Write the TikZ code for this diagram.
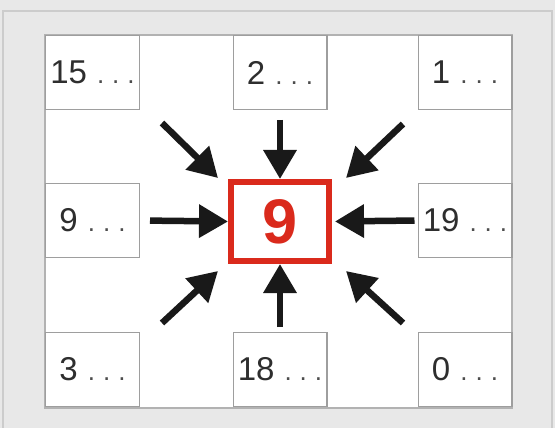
\documentclass[tikz,border=0pt]{standalone}
\usepackage{fontspec}
\setmainfont{Liberation Sans}
\usetikzlibrary{arrows.meta}
\definecolor{hotred}{RGB}{218,42,28}
\newcommand{\etc}{\hspace{10pt}{\fontsize{26}{28}\selectfont\color{black!70}.\hspace{8pt}.\hspace{8pt}.}}

\begin{document}
\begin{tikzpicture}[x=1pt, y=-1pt,
  cell/.style={draw=black!38, line width=1.2pt, fill=white, inner sep=0pt,
    minimum width=93.8pt, minimum height=73.8pt, text=black!82,
    font=\fontsize{33}{36}\selectfont},
  core/.style={draw=hotred, line width=6pt, minimum width=98pt, minimum height=79pt,
    text=hotred, font=\fontsize{63}{66}\selectfont\bfseries},
  push/.style={-{Triangle[length=29pt,width=32pt]}, line width=6.5pt, black!90}]
\useasboundingbox (0,0) rectangle (555,428);
\fill[black!9] (0,0) rectangle (555,428);
\draw[black!20, line width=1.5pt] (3,428) -- (3,11) -- (552,11) -- (552,428);
\draw[black!30, fill=white, line width=1.2pt] (45,35) rectangle (512,408);

% outer ring of cells
\node[cell] (b15) at (92.5,72.5) {15\etc};
\node[cell] (b2) at (280,72.5) {2\etc};
\node[cell] (b1) at (465,72.5) {1\etc};
\node[cell] (b9) at (92.5,220.5) {9\etc};
\node[cell] (b19) at (465,220.5) {19\etc};
\node[cell] (b3) at (92.5,369.5) {3\etc};
\node[cell] (b18) at (280,369.5) {18\etc};
\node[cell] (b0) at (465,369.5) {0\etc};

% the cell in the middle
\node[core] (c9) at (280,221.5) {9};

% diagonal arrows
\coordinate (fromnw) at (162,123);
\coordinate (tonw) at (218,178);
\coordinate (fromne) at (403,124);
\coordinate (tone) at (346,178);
\coordinate (fromsw) at (162,323);
\coordinate (tosw) at (218,271);
\coordinate (fromse) at (403,323);
\coordinate (tose) at (346,271);

\draw[push, shorten <=10pt] (b2.south) -- (c9.north);
\draw[push, shorten <=5pt] (b18.north) -- (c9.south);
\draw[push, shorten <=10pt] (b9.east) -- (c9.west);
\draw[push, shorten <=3pt, shorten >=3pt] (b19.west) -- (c9.east);
\draw[push] (fromnw) -- (tonw);
\draw[push] (fromne) -- (tone);
\draw[push] (fromsw) -- (tosw);
\draw[push] (fromse) -- (tose);
\end{tikzpicture}
\end{document}
